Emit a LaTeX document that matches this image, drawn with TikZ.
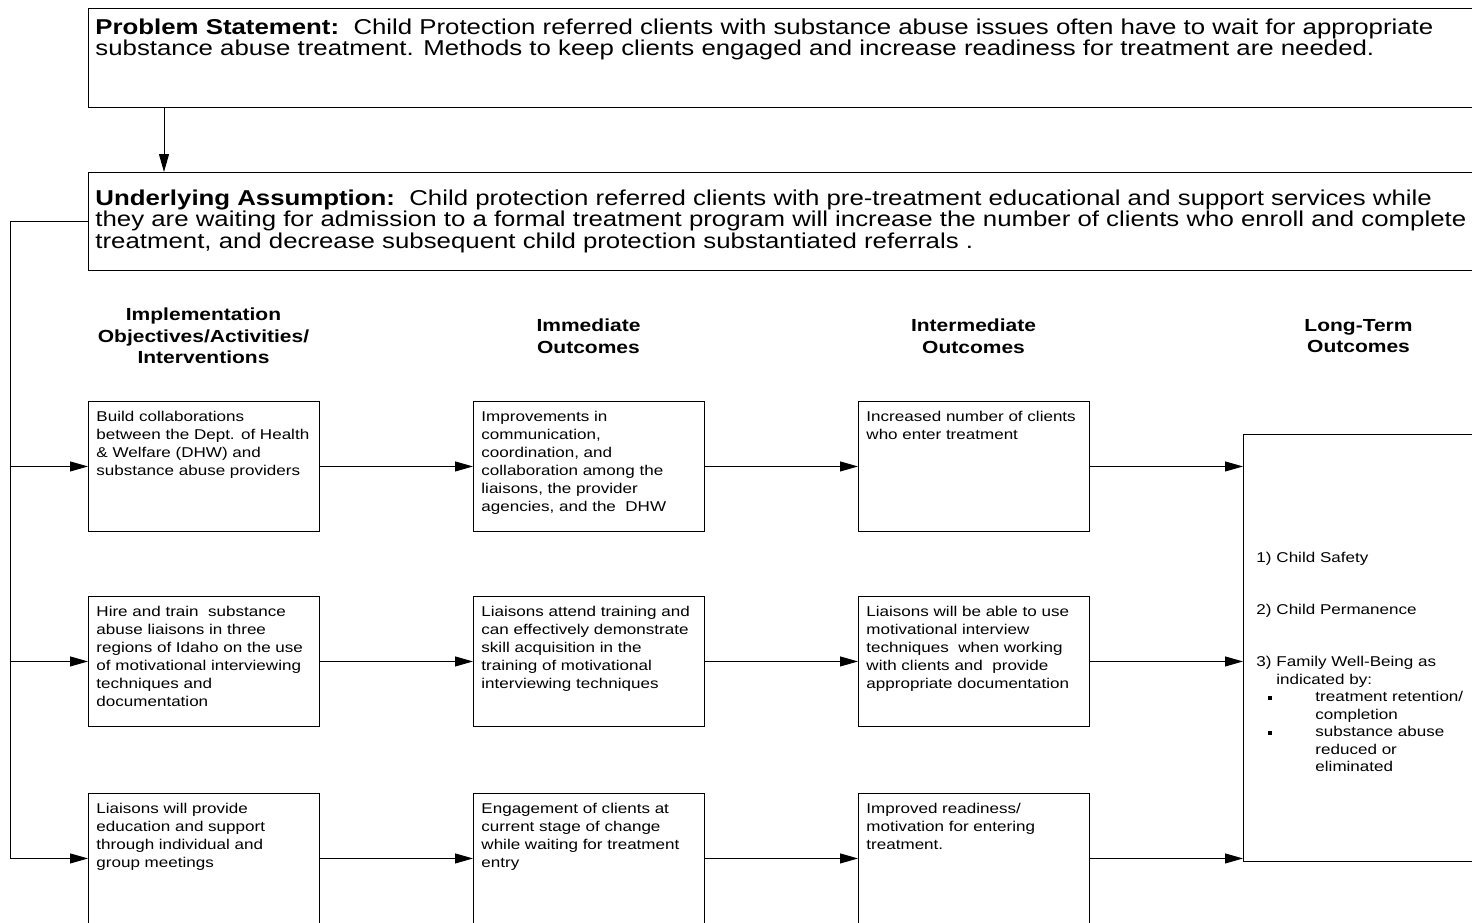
\documentclass[tikz,border=0pt]{standalone}
\usepackage{fontspec}
\setmainfont{Liberation Sans}[FakeStretch=1.2]
\usetikzlibrary{arrows.meta}

% text blocks, top aligned inside their frames
\newcommand{\bigtext}[3]{\parbox[c][#1][t]{1386pt}{\fontsize{21.5}{21.6}\selectfont
  \parindent=0pt\leftskip=7pt\rightskip=0pt plus 1fil\vspace*{#2}#3}}
\newcommand{\celltext}[1]{\parbox[c][130pt][t]{231pt}{\fontsize{14.2}{18}\selectfont
  \parindent=0pt\leftskip=8pt\rightskip=0pt plus 1fil\vspace*{10pt}#1}}
\newcommand{\sqbullet}{\rule[2pt]{4pt}{4pt}}

\tikzset{
  frame/.style={draw, rectangle, inner sep=0pt, anchor=north west, line width=0.9pt},
  cell/.style={frame, minimum width=231pt, minimum height=130pt},
  head/.style={align=center, font=\bfseries\fontsize{17.5}{21.5}\selectfont},
  arr/.style={line width=0.9pt, -{Triangle[length=18pt, width=10pt]}}
}

\begin{document}
\begin{tikzpicture}[x=1pt, y=-1pt]
	\useasboundingbox (0,0) rectangle (1472,922);
	\clip (0,0) rectangle (1472,922);
	\fill[white] (0,0) rectangle (1472,922);

	% top
	\node[frame, minimum width=1386pt, minimum height=99pt] (ps) at (88,8)
		{\bigtext{99pt}{10pt}{\textbf{Problem Statement:}\ \ Child Protection referred clients with substance abuse issues often have to wait for appropriate\\
		substance abuse treatment. Methods to keep clients engaged and increase readiness for treatment are needed.}};
	\node[frame, minimum width=1386pt, minimum height=98pt] (ua) at (88,172)
		{\bigtext{98pt}{17pt}{\textbf{Underlying Assumption:}\ \ Child protection referred clients with pre-treatment educational and support services while\\
		they are waiting for admission to a formal treatment program will increase the number of clients who enroll and complete\\
		treatment, and decrease subsequent child protection substantiated referrals .}};
	\coordinate (drop) at (164,0);
	\draw[arr] (ps.south -| drop) -- (ua.north -| drop);

	% headers
	\node[head] (h1) at (203.5,336) {Implementation\\Objectives/Activities/\\Interventions};
	\node[head] (h2) at (588.5,336) {Immediate\\Outcomes};
	\node[head] (h3) at (973.5,336) {Intermediate\\Outcomes};
	\node[head] (h4) at (1358.5,336) {Long-Term\\Outcomes};

	% first row
	\node[cell] (c11) at (88,401) {\celltext{Build collaborations\\between the Dept. of Health\\\& Welfare (DHW) and\\substance abuse providers}};
	\node[cell] (c12) at (473,401) {\celltext{Improvements in\\communication,\\coordination, and\\collaboration among the\\liaisons, the provider\\agencies, and the\ \ DHW}};
	\node[cell] (c13) at (858,401) {\celltext{Increased number of clients\\who enter treatment}};

	% second row
	\node[cell] (c21) at (88,596) {\celltext{Hire and train\ \ substance\\abuse liaisons in three\\regions of Idaho on the use\\of motivational interviewing\\techniques and\\documentation}};
	\node[cell] (c22) at (473,596) {\celltext{Liaisons attend training and\\can effectively demonstrate\\skill acquisition in the\\training of motivational\\interviewing techniques}};
	\node[cell] (c23) at (858,596) {\celltext{Liaisons will be able to use\\motivational interview\\techniques\ \ when working\\with clients and\ \ provide\\appropriate documentation}};

	% third row
	\node[cell] (c31) at (88,793) {\celltext{Liaisons will provide\\education and support\\through individual and\\group meetings}};
	\node[cell] (c32) at (473,793) {\celltext{Engagement of clients at\\current stage of change\\while waiting for treatment\\entry}};
	\node[cell] (c33) at (858,793) {\celltext{Improved readiness/\\motivation for entering\\treatment.}};

	% long-term box
	\node[frame, minimum width=231pt, minimum height=427pt] (lt) at (1243,434)
		{\parbox[c][427pt][t]{231pt}{\fontsize{14.2}{17.5}\selectfont\parindent=0pt\leftskip=13pt\vspace*{118pt}
		\makebox[20pt][l]{1)}Child Safety\par\vspace{34.5pt}
		\makebox[20pt][l]{2)}Child Permanence\par\vspace{34.5pt}
		\makebox[20pt][l]{3)}Family Well-Being as\\
		\hspace*{20pt}indicated by:\\
		\hspace*{12pt}\makebox[47pt][l]{\sqbullet}treatment retention/\\
		\hspace*{59pt}completion\\
		\hspace*{12pt}\makebox[47pt][l]{\sqbullet}substance abuse\\
		\hspace*{59pt}reduced or\\
		\hspace*{59pt}eliminated}};

	% left bus
	\coordinate (bus) at (10,0);
	\draw[line width=0.9pt] (ua.west) -- (ua.west -| bus) -- (bus |- c31);
	\draw[arr] (bus |- c11) -- (c11);
	\draw[arr] (bus |- c21) -- (c21);
	\draw[arr] (bus |- c31) -- (c31);

	% across
	\draw[arr] (c11) -- (c12);
	\draw[arr] (c12) -- (c13);
	\draw[arr] (c13) -- (c13 -| lt.west);
	\draw[arr] (c21) -- (c22);
	\draw[arr] (c22) -- (c23);
	\draw[arr] (c23) -- (c23 -| lt.west);
	\draw[arr] (c31) -- (c32);
	\draw[arr] (c32) -- (c33);
	\draw[arr] (c33) -- (c33 -| lt.west);
\end{tikzpicture}
\end{document}
